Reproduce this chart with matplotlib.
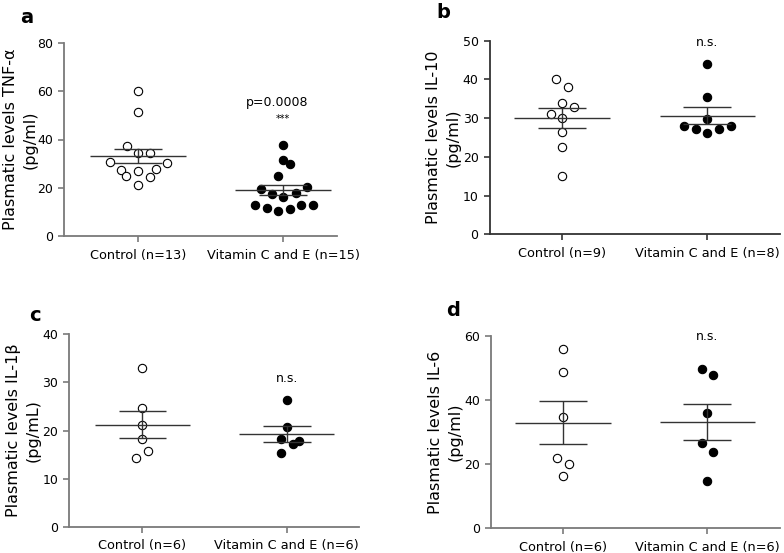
import matplotlib
matplotlib.use("Agg")
from matplotlib import pyplot as plt
import numpy as np

plt.rcParams['font.family'] = ['DejaVu Sans']

groups = ['Control', 'Vitamin C and E']

# panel a - TNF-alpha
tnf_control = [59.9, 51.3, 37.5, 34.6, 34.6, 30.7, 30.2, 27.4, 27.7, 24.9, 27.0, 24.6, 21.2]
tnf_vitamin = [37.8, 31.5, 29.7, 25.0, 19.5, 20.2, 17.6, 18.0, 16.2, 12.9, 11.5, 10.5, 11.1, 12.7, 12.7]

# panel b - IL-10
il10_control = [40.0, 38.0, 34.0, 33.0, 31.1, 30.0, 26.5, 22.5, 15.1]
il10_vitamin = [44.0, 35.4, 29.7, 28.0, 28.0, 27.1, 27.1, 26.1]

# panel c - IL-1beta
il1b_control = [32.9, 24.7, 21.1, 18.2, 15.7, 14.3]
il1b_vitamin = [26.4, 20.7, 18.2, 17.8, 17.1, 15.3]

# panel d - IL-6
il6_control = [56.0, 48.8, 34.8, 22.0, 20.0, 16.3]
il6_vitamin = [49.8, 47.8, 36.1, 26.7, 23.8, 14.8]

# horizontal scatter of the points (column layout), same order as values
tnf_control_dx = [0, 0, -0.08, 0, 0.08, -0.195, 0.2, -0.12, 0.12, -0.085, 0, 0.08, 0]
tnf_vitamin_dx = [0, 0, 0.046, -0.039, -0.156, 0.166, -0.076, 0.086, 0, -0.195, -0.115, -0.034, 0.046, 0.122, 0.203]
il10_control_dx = [-0.043, 0.041, 0, 0.081, -0.08, 0, 0, 0, 0]
il10_vitamin_dx = [0, 0, 0, -0.161, 0.161, -0.08, 0.08, 0]
il1b_control_dx = [0, 0, 0, 0, 0.041, -0.041]
il1b_vitamin_dx = [0, 0, -0.039, 0.085, 0.041, -0.039]
il6_control_dx = [0, 0, 0, -0.041, 0.041, 0]
il6_vitamin_dx = [-0.037, 0.043, 0, -0.037, 0.043, 0]

panels = [
    dict(letter='a', ylabel='Plasmatic levels TNF-\u03b1\n(pg/ml)', ymax=80, step=20,
         data=(tnf_control, tnf_vitamin), dx=(tnf_control_dx, tnf_vitamin_dx),
         ns=(13, 15), note='p=0.0008', note_y=55.3, stars=True, stars_y=48.5,
         rect=[64, 43, 337, 236], xlim=(-0.512, 1.37), spine='#7a7a7a',
         letter_xy=(20, 23)),
    dict(letter='b', ylabel='Plasmatic levels IL-10\n(pg/ml)', ymax=50, step=10,
         data=(il10_control, il10_vitamin), dx=(il10_control_dx, il10_vitamin_dx),
         ns=(9, 8), note='n.s.', note_y=49.5, stars=False,
         rect=[489.7, 40.7, 780, 234.3], xlim=(-0.5, 1.5), spine='#333333',
         letter_xy=(436, 18)),
    dict(letter='c', ylabel='Plasmatic levels IL-1\u03b2\n(pg/mL)', ymax=40, step=10,
         data=(il1b_control, il1b_vitamin), dx=(il1b_control_dx, il1b_vitamin_dx),
         ns=(6, 6), note='n.s.', note_y=30.8, stars=False,
         rect=[69.3, 334.3, 359, 526.7], xlim=(-0.506, 1.5), spine='#7a7a7a',
         letter_xy=(29, 321)),
    dict(letter='d', ylabel='Plasmatic levels IL-6\n(pg/ml)', ymax=60, step=20,
         data=(il6_control, il6_vitamin), dx=(il6_control_dx, il6_vitamin_dx),
         ns=(6, 6), note='n.s.', note_y=60, stars=False,
         rect=[491.3, 336, 780, 528.3], xlim=(-0.497, 1.504), spine='#7a7a7a',
         letter_xy=(446, 316)),
]

W, H = 784, 553
fig = plt.figure(figsize=(W / 100, H / 100), dpi=100)

for p in panels:
    x0, y0, x1, y1 = p['rect']
    ax = fig.add_axes([x0 / W, 1 - y1 / H, (x1 - x0) / W, (y1 - y0) / H])

    for i, (vals, dx) in enumerate(zip(p['data'], p['dx'])):
        vals = np.array(vals)
        xs = i + np.array(dx)
        face = 'white' if i == 0 else 'black'
        ax.plot(xs, vals, 'o', ms=6, mfc=face, mec='black', mew=0.8,
                zorder=2, clip_on=False)
        mean = vals.mean()
        sem = vals.std(ddof=1) / np.sqrt(len(vals))
        ax.hlines(mean, i - 0.33, i + 0.33, color='#333333', lw=1.0, zorder=3)
        ax.hlines([mean - sem, mean + sem], i - 0.165, i + 0.165,
                  color='#333333', lw=1.0, zorder=3)
        ax.vlines(i, mean - sem, mean + sem, color='#333333', lw=1.0, zorder=3)

    if p['stars']:
        ax.text(1 - 0.045, p['note_y'], p['note'], ha='center', va='center', fontsize=9)
        ax.text(1, p['stars_y'], '***', ha='center', va='center', fontsize=7)
    else:
        ax.text(1, p['note_y'], p['note'], ha='center', va='center', fontsize=9)

    ax.set_xlim(*p['xlim'])
    ax.set_ylim(0, p['ymax'])
    ax.set_yticks(np.arange(0, p['ymax'] + 1, p['step']))
    ax.set_xticks([0, 1])
    ax.set_xticklabels(['%s (n=%d)' % (g, n) for g, n in zip(groups, p['ns'])])

    for s in ['top', 'right']:
        ax.spines[s].set_visible(False)
    for s in ['left', 'bottom']:
        ax.spines[s].set_color(p['spine'])
        ax.spines[s].set_linewidth(1.3)
    ax.tick_params(axis='both', color=p['spine'], width=1.2, length=4,
                   labelsize=9, pad=4)
    ax.tick_params(axis='x', labelsize=9.3, pad=5)

    ax.set_ylabel(p['ylabel'], fontsize=11.5, linespacing=1.4, va='center')
    ax.yaxis.set_label_coords(-0.16, 0.5)

    lx, ly = p['letter_xy']
    fig.text(lx / W, 1 - ly / H, p['letter'], fontsize=14, fontweight='bold',
             ha='left', va='baseline')

fig.savefig('out.png', dpi=100)
